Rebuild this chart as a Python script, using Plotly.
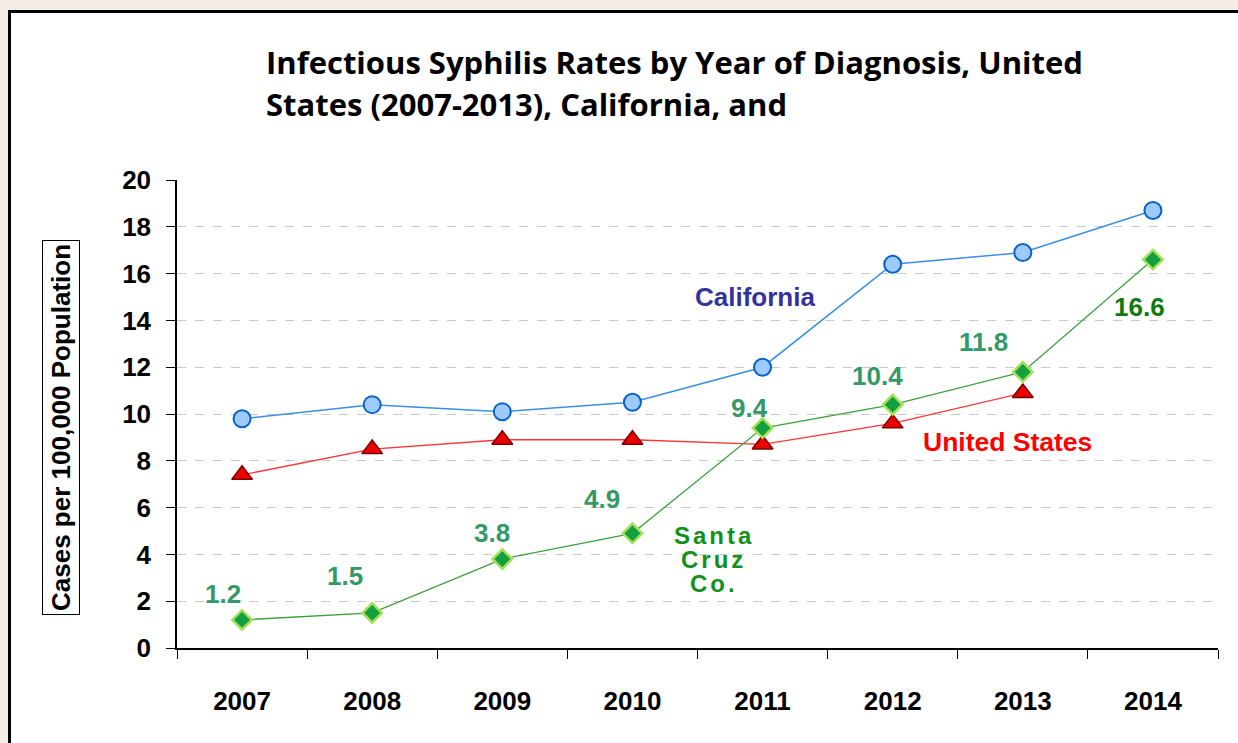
import plotly.graph_objects as go

years = ["2007", "2008", "2009", "2010", "2011", "2012", "2013", "2014"]
california = [9.8, 10.4, 10.1, 10.5, 12.0, 16.4, 16.9, 18.7]
united_states = [7.4, 8.5, 8.9, 8.9, 8.7, 9.6, 10.9, None]
santa_cruz = [1.2, 1.5, 3.8, 4.9, 9.4, 10.4, 11.8, 16.6]
sc_labels = ["1.2", "1.5", "3.8", "4.9", "9.4", "10.4", "11.8", "16.6"]

# label offsets in pixels (style only)
label_dx = [-19, -27, -10, -30, -13, -15, -39, -13]
label_dy = [26, 37, 26, 34, 20, 29, 30, -47]
label_colors = ["#339966"] * 7 + ["#0e7a0e"]

W, H = 1238, 743
ML, MR, MT, MB = 177, 20, 180, 95
PW, PH = W - ML - MR, H - MT - MB
BG = "#f5eee6"
ARIAL = "Liberation Sans, Arial"


def xp(px):
    return (px - ML) / PW


def yp(py):
    return (H - MB - py) / PH


fig = go.Figure()

fig.add_trace(go.Scatter(
    x=years, y=california, mode="lines+markers", name="California",
    line=dict(color="#3a8ee6", width=1.5),
    marker=dict(symbol="circle", size=17, color="#9dcbff",
                line=dict(color="#0a62c8", width=2)),
))
fig.add_trace(go.Scatter(
    x=years, y=united_states, mode="lines+markers", name="United States",
    line=dict(color="#ff3333", width=1.3),
    marker=dict(symbol="triangle-up", size=18, color="#ee0000",
                line=dict(color="#7a0000", width=1.5)),
))
fig.add_trace(go.Scatter(
    x=years, y=santa_cruz, mode="lines+markers", name="Santa Cruz Co.",
    line=dict(color="#3aa03a", width=1.3),
    marker=dict(symbol="diamond", size=15, color="#12a040",
                line=dict(color="#a6e05a", width=2.5)),
))

annotations = []
for i, (v, t, dx, dy, c) in enumerate(zip(santa_cruz, sc_labels, label_dx, label_dy, label_colors)):
    annotations.append(dict(
        x=i, y=v, xref="x", yref="y", text=t, showarrow=False,
        xanchor="center", yanchor="middle",
        xshift=dx, yshift=dy,
        font=dict(family=ARIAL, size=26, color=c, weight="bold"),
    ))


def txt(px, py, text, size, color, family=ARIAL, **kw):
    d = dict(x=xp(px), y=yp(py), xref="paper", yref="paper", text=text,
             showarrow=False, xanchor="center", yanchor="middle",
             font=dict(family=family, size=size, color=color, weight="bold"))
    d.update(kw)
    return d


sc_style = "letter-spacing:3px"
SC_COLOR = "#11911a"
annotations += [
    txt(755, 297, "California", 26, "#333399"),
    txt(1007, 442, "United States", 26.5, "#ff0000"),
    txt(714, 535, f"<b><span style='{sc_style}'>Santa</span></b>", 24, SC_COLOR),
    txt(714, 559, f"<b><span style='{sc_style}'>Cruz</span></b>", 24, SC_COLOR),
    txt(714, 583, f"<b><span style='{sc_style}'>Co.</span></b>", 24, SC_COLOR),
    txt(264, 62, "Infectious Syphilis Rates by Year of Diagnosis, United", 31, "#000000",
        family="Open Sans", xanchor="left", align="left"),
    txt(264, 104, "States (2007-2013), California, and", 31, "#000000",
        family="Open Sans", xanchor="left", align="left"),
    txt(61, 428, "Cases per 100,000 Population", 26, "#000000", textangle=-90,
        bordercolor="#000000", borderwidth=1, borderpad=3, bgcolor="#ffffff"),
]

fig.update_layout(
    width=W, height=H,
    margin=dict(l=ML, r=MR, t=MT, b=MB, autoexpand=False),
    paper_bgcolor=BG,
    plot_bgcolor="rgba(0,0,0,0)",
    showlegend=False,
    annotations=annotations,
    shapes=[dict(type="rect", xref="paper", yref="paper", layer="below",
                 x0=xp(9.5), x1=xp(1260), y0=yp(780), y1=yp(11.5),
                 fillcolor="#ffffff", line=dict(color="#000000", width=3))],
    xaxis=dict(
        type="category", range=[-0.5, 7.5], tickson="boundaries",
        ticks="outside", ticklen=9, tickcolor="#000000", tickwidth=1.2,
        showline=True, linecolor="#000000", linewidth=1.5,
        showgrid=False, ticklabelstandoff=29,
        tickfont=dict(family=ARIAL, size=26, color="#000000", weight="bold"),
    ),
    yaxis=dict(
        range=[0, 20], dtick=2, ticks="outside", ticklen=9, tickcolor="#000000",
        tickwidth=1.2, showline=True, linecolor="#000000", linewidth=1.5,
        showgrid=True, gridcolor="#c8c8c8", griddash="dash", gridwidth=1,
        zeroline=False, ticklabelstandoff=10,
        tickfont=dict(family=ARIAL, size=26, color="#000000", weight="bold"),
    ),
)

fig.write_html(
    "out.html",
    config={"displayModeBar": False},
    post_script="document.body.style.margin='0';document.body.style.background='%s';" % BG,
)
